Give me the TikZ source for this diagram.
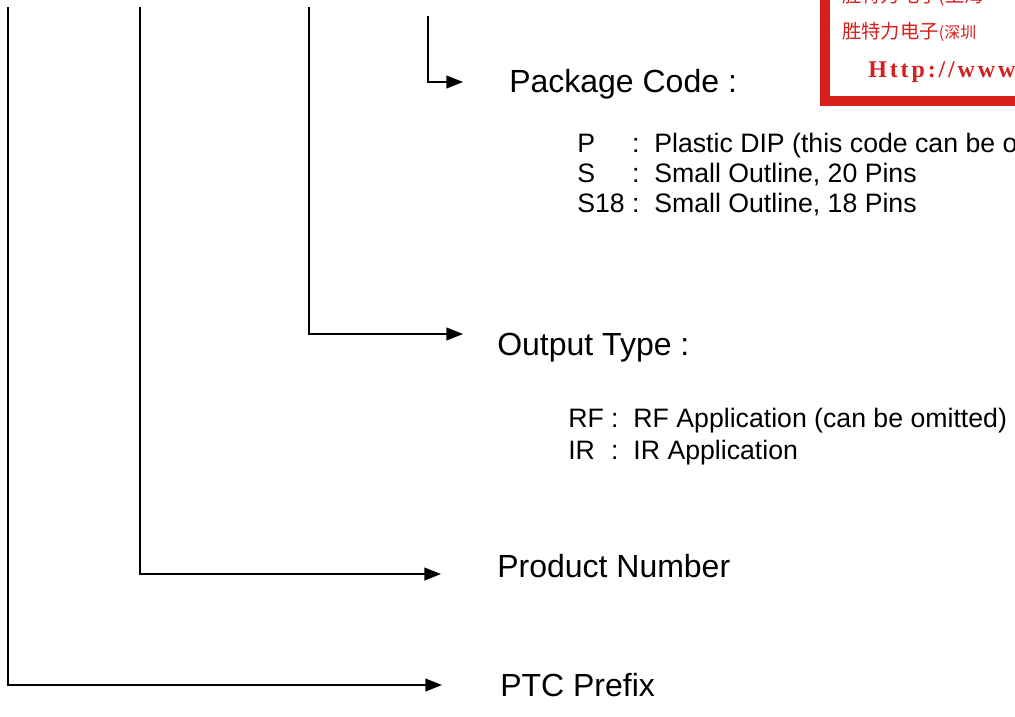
\documentclass[tikz,border=0pt]{standalone}
\usepackage{fontspec}
\setmainfont{Liberation Sans}
\newfontfamily\stampcjk{Noto Sans CJK SC}
\newfontfamily\stampserif[LetterSpace=12]{Liberation Serif}
\usetikzlibrary{arrows.meta}
\definecolor{stampred}{RGB}{214,32,28}

\begin{document}
\begin{tikzpicture}[x=0.75pt,y=0.75pt]
\tikzstyle{every node}+=[inner sep=0pt]
\tikzstyle{lead}=[line width=1.5pt,-{Triangle[length=12.5pt,width=9.5pt]}]
\tikzstyle{head}=[anchor=base west,font=\fontsize{24}{28}\selectfont]
\tikzstyle{codes}=[anchor=base west,font=\fontsize{20}{22.5}\selectfont]
\tikzstyle{stamp}=[anchor=west,text=stampred]
\useasboundingbox (0,0) rectangle (1015,-717);
\clip (0,0) rectangle (1015,-717);

\draw [stampred,line width=7.5pt,fill=white] (825,20) rectangle (1040,-101.5);
\node [stamp,font=\stampcjk\fontsize{14.5}{14.5}\selectfont] (stampa) at (842,4) {胜特力电子(上海};
\node [stamp,font=\stampcjk\fontsize{14.5}{14.5}\selectfont] (stampb) at (842,-32) {胜特力电子{\fontsize{12}{12}\selectfont(深圳}};
\node [stamp,font=\stampserif\bfseries\fontsize{18}{18}\selectfont] (stampc) at (868,-72) {Http://www.100y.com.tw};

\coordinate (top1) at (8,-7);
\coordinate (top2) at (140,-7);
\coordinate (top3) at (309,-7);
\coordinate (top4) at (428,-16);
\coordinate (tip1) at (442,-685);
\coordinate (tip2) at (441,-574);
\coordinate (tip3) at (463,-334);
\coordinate (tip4) at (463,-82);

\node [head] (pkg) at (509,-93) {Package Code :};
\node [head] (otype) at (497,-355.5) {Output Type :};
\node [head] (prod) at (497,-577.5) {Product Number};
\node [head] (pfx) at (500,-696.5) {PTC Prefix};

\node [codes] (pkglist) at (577,-152.5) {\begin{tabular}[t]{@{}l@{\ }l@{\ \ }l@{}}
P & : & Plastic DIP (this code can be omitted)\\
S & : & Small Outline, 20 Pins\\
S18 & : & Small Outline, 18 Pins
\end{tabular}};
\node [codes,font=\fontsize{20}{24}\selectfont] (typelist) at (568,-427.5) {\begin{tabular}[t]{@{}l@{\ }l@{\ \ }l@{}}
RF & : & RF Application (can be omitted)\\
IR & : & IR Application
\end{tabular}};

\draw [lead] (top1) |- (tip1);
\draw [lead] (top2) |- (tip2);
\draw [lead] (top3) |- (tip3);
\draw [lead] (top4) |- (tip4);
\end{tikzpicture}
\end{document}
